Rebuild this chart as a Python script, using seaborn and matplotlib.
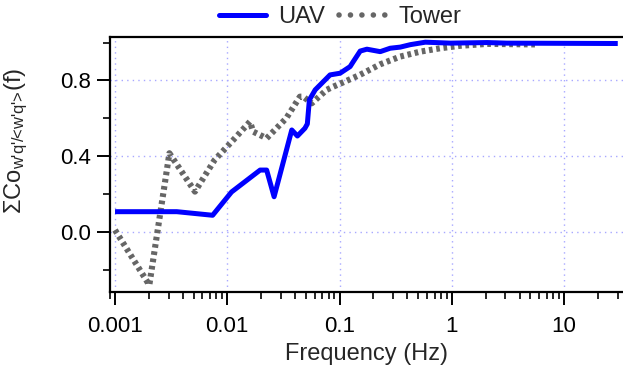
import numpy as np
import pandas as pd
import matplotlib
matplotlib.use("Agg")
import matplotlib.pyplot as plt
from matplotlib.lines import Line2D
from matplotlib.ticker import LogLocator, FixedLocator, MultipleLocator, FuncFormatter
import seaborn as sns

# values
uav_freq = [0.001, 0.00355, 0.0074, 0.0109, 0.0196, 0.0224, 0.0261, 0.0375, 0.0421,
            0.0491, 0.0516, 0.0538, 0.0606, 0.067, 0.0822, 0.101, 0.124, 0.1326,
            0.1525, 0.175, 0.23, 0.282, 0.347, 0.427, 0.58, 0.97, 2.05, 3.08, 30.0]
uav_cospec = [0.106, 0.106, 0.087, 0.21, 0.326, 0.326, 0.185, 0.538, 0.506,
              0.547, 0.57, 0.697, 0.75, 0.776, 0.829, 0.838, 0.873, 0.9,
              0.955, 0.965, 0.952, 0.970, 0.976, 0.989, 1.002, 0.997, 1.0, 0.997, 0.995]

tower_freq = [0.001, 0.00202, 0.00305, 0.00515, 0.0077, 0.0113, 0.0159, 0.0170, 0.0224,
              0.0335, 0.0443, 0.0474, 0.0565, 0.0766, 0.088, 0.108, 0.1525, 0.23,
              0.347, 0.523, 0.789, 1.19, 2.05, 5.9]
tower_cospec = [0.009, -0.282, 0.415, 0.212, 0.379, 0.485, 0.582, 0.529, 0.494,
                0.600, 0.714, 0.714, 0.679, 0.750, 0.767, 0.790, 0.830, 0.885,
                0.926, 0.952, 0.970, 0.983, 0.993, 0.990]

x_ticks = [0.001, 0.01, 0.1, 1, 10]
x_tick_labels = ["0.001", "0.01", "0.1", "1", "10"]
y_ticks = [0.0, 0.4, 0.8]

uav = pd.DataFrame({"freq": uav_freq, "cospec": uav_cospec})
tower = pd.DataFrame({"freq": tower_freq, "cospec": tower_cospec})

sns.set_style("ticks")
plt.rcParams["font.family"] = ["Liberation Sans", "DejaVu Sans"]
plt.rcParams["mathtext.fontset"] = "custom"
plt.rcParams["mathtext.rm"] = "Liberation Sans"
plt.rcParams["mathtext.it"] = "Liberation Sans:italic"
plt.rcParams["mathtext.bf"] = "Liberation Sans:bold"

blue = "#0000ff"
grey = "#666666"

fig = plt.figure(figsize=(6.23, 3.76), dpi=100)
ax = fig.add_axes([109.5 / 623, 84.3 / 376, 513.5 / 623, 255 / 376])

sns.lineplot(data=tower, x="freq", y="cospec", ax=ax, color=grey, lw=4.4,
             linestyle=(0, (0.6, 0.6)), estimator=None)
sns.lineplot(data=uav, x="freq", y="cospec", ax=ax, color=blue, lw=3.6,
             estimator=None, solid_capstyle="butt")

ax.set_xscale("log")
ax.set_xlim(0.000893, 33.4)
ax.set_ylim(-0.317, 1.031)

ax.xaxis.set_major_locator(FixedLocator(x_ticks))
ax.xaxis.set_major_formatter(FuncFormatter(lambda v, p: x_tick_labels[x_ticks.index(v)] if v in x_ticks else ""))
ax.xaxis.set_minor_locator(LogLocator(base=10, subs=np.arange(2, 10)))
ax.yaxis.set_major_locator(FixedLocator(y_ticks))
ax.yaxis.set_minor_locator(MultipleLocator(0.2))

ax.grid(True, which="major", color="#a8a8ff", lw=1.0, linestyle=(0, (1, 3)))
ax.set_axisbelow(True)

for s in ["left", "bottom", "top"]:
    ax.spines[s].set_linewidth(1.6)
    ax.spines[s].set_color("black")
ax.spines["right"].set_visible(False)

ax.tick_params(which="major", direction="out", length=9.5, width=1.4, labelsize=16, colors="black")
ax.tick_params(which="minor", direction="out", length=5, width=1.4)
ax.tick_params(axis="x", which="major", pad=8)
ax.tick_params(axis="y", which="major", pad=4)
ax.tick_params(top=False, right=False, which="both")

ax.set_xlabel("Frequency (Hz)", fontsize=17, labelpad=4)
ax.set_ylabel(r"$\Sigma\mathrm{Co}_{\text{w'q'/<w'q'>}}\mathrm{(f)}$", fontsize=17)
ax.yaxis.set_label_coords(-0.155, 0.59)

handles = [
    Line2D([], [], color=blue, lw=3.6),
    Line2D([], [], color=grey, lw=4.0, linestyle=(0, (0.01, 2.05)), dash_capstyle="round"),
]
fig.legend(handles, ["UAV", "Tower"], loc="center", bbox_to_anchor=(340 / 623, 0.955),
           ncol=2, frameon=False, fontsize=17, handlelength=2.0, handletextpad=0.5,
           columnspacing=0.6, borderaxespad=0)

fig.savefig("out.png", dpi=100)
